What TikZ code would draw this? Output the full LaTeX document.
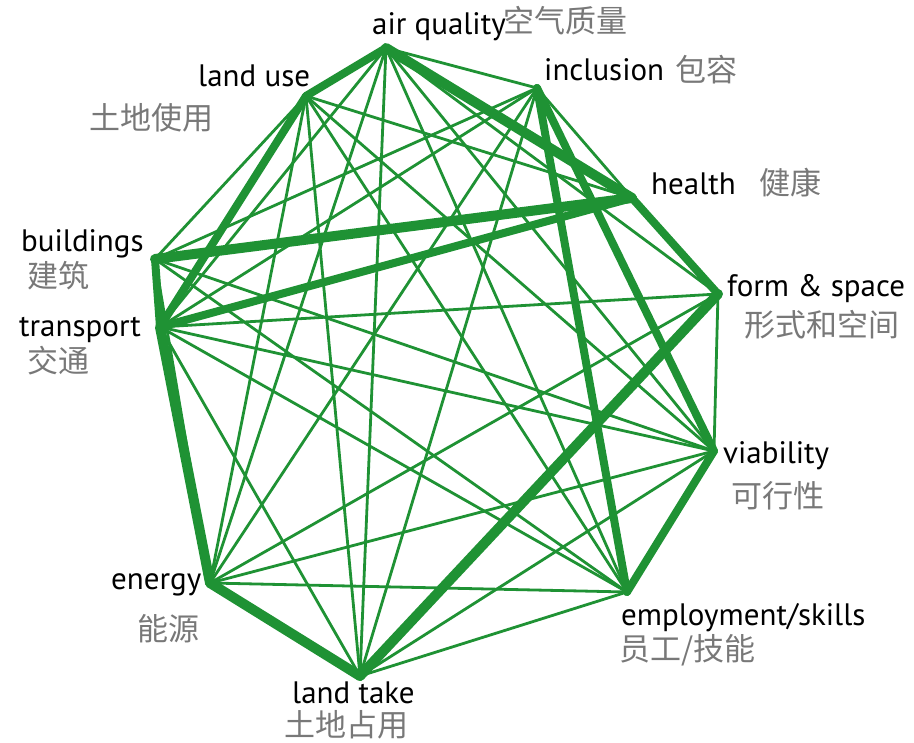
\documentclass[tikz,border=0pt]{standalone}
\usepackage{fontspec}
\setmainfont{PT Sans}
\newfontfamily\cjk{Noto Sans CJK SC}
\definecolor{edgegreen}{RGB}{31,146,52}
\definecolor{cngray}{RGB}{120,120,120}
\begin{document}
\begin{tikzpicture}[x=1pt,y=-1pt,
  thinedge/.style={draw=edgegreen,line width=2.8pt,line cap=round},
  thickedge/.style={draw=edgegreen,line width=8pt,line cap=round},
  heavyedge/.style={draw=edgegreen,line width=10pt,line cap=round},
  enlabel/.style={anchor=west,inner sep=0pt,font=\fontsize{31}{32}\selectfont,text=black},
  cnlabel/.style={anchor=west,inner sep=0pt,font=\cjk\fontsize{31}{32}\selectfont,text=cngray}]
\useasboundingbox (0,0) rectangle (914,743);
% node points
\coordinate (A) at (386,48);
\coordinate (LU) at (306,96);
\coordinate (I) at (537,88);
\coordinate (H) at (632,198);
\coordinate (F) at (718,294);
\coordinate (V) at (714,451);
\coordinate (E) at (627,592);
\coordinate (LT) at (360,676);
\coordinate (EN) at (210,583);
\coordinate (T) at (160,327);
\coordinate (B) at (155,259);
% thin edges
\foreach \p/\q in {A/I,A/T,A/EN,A/LT,A/E,A/V,A/F,
  LU/B,LU/H,LU/V,LU/E,LU/LT,LU/EN,
  I/H,I/B,I/T,I/EN,I/LT,
  F/T,F/V,F/EN,
  V/B,V/T,V/EN,V/LT,
  E/T,E/EN,E/LT,E/B,
  LT/T,EN/B}
  \draw[thinedge] (\p) -- (\q);
% thick edges
\foreach \p/\q in {A/LU,I/E,I/V,H/F,LU/T,B/T,V/E,H/T}
  \draw[thickedge] (\p) -- (\q);
\foreach \p/\q in {A/H,H/B,F/LT,T/EN,EN/LT}
  \draw[heavyedge] (\p) -- (\q);
% labels
\node[enlabel] (lA) at (372,27) {air quality};
\node[cnlabel] (cA) at (503,21) {空气质量};
\node[enlabel] (lLU) at (198,76) {land use};
\node[cnlabel] (cLU) at (89,118) {土地使用};
\node[enlabel] (lI) at (544,70) {inclusion};
\node[cnlabel] (cI) at (675,70) {包容};
\node[enlabel] (lH) at (651,184) {health};
\node[cnlabel] (cH) at (759,183) {健康};
\node[enlabel] (lF) at (727,289) {form \& space};
\node[cnlabel] (cF) at (744,325) {形式和空间};
\node[enlabel] (lV) at (723,456) {viability};
\node[cnlabel] (cV) at (731,496) {可行性};
\node[enlabel] (lE) at (621,618) {employment/skills};
\node[cnlabel] (cE) at (619,650) {员工/技能};
\node[enlabel] (lLT) at (292,693) {land take};
\node[cnlabel] (cLT) at (284,725) {土地占用};
\node[enlabel] (lEN) at (111,585) {energy};
\node[cnlabel] (cEN) at (137,629) {能源};
\node[enlabel] (lT) at (19,330) {transport};
\node[cnlabel] (cT) at (27,361) {交通};
\node[enlabel] (lB) at (21,244) {buildings};
\node[cnlabel] (cB) at (27,276) {建筑};
\end{tikzpicture}
\end{document}
